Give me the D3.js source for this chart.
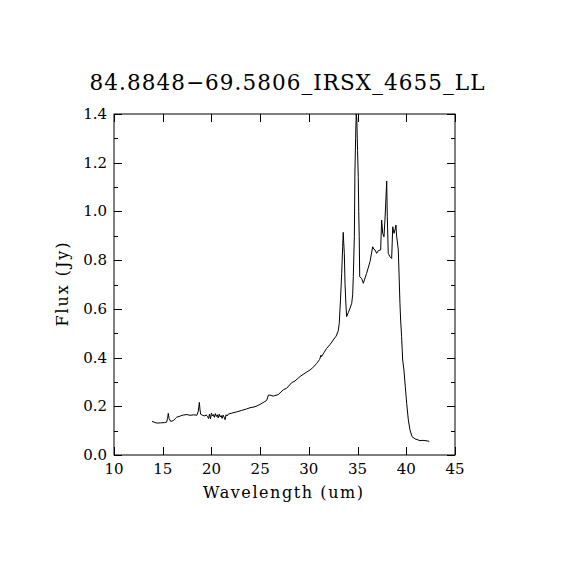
<!DOCTYPE html>
<html><head><meta charset="utf-8">
<script src="https://cdn.jsdelivr.net/npm/d3@7"></script>
<style>body{margin:0;background:#fff}svg{display:block}text{font-family:"DejaVu Serif","Liberation Serif",serif;fill:#000}</style>
</head><body>
<svg id="c" width="570" height="570"></svg>
<script>
const title = "84.8848\u221269.5806_IRSX_4655_LL";
const xLabel = "Wavelength (um)";
const yLabel = "Flux (Jy)";
const xTicks = [10,15,20,25,30,35,40,45];
const yTicks = [0.0,0.2,0.4,0.6,0.8,1.0,1.2,1.4];
const wavelength = [13.9,14.1,14.38,14.8,15.2,15.4,15.5,15.57,15.65,15.82,16.09,16.3,16.43,16.8,17.1,17.5,17.8,18.2,18.5,18.65,18.76,18.83,18.9,19.1,19.34,19.45,19.6,19.7,19.8,19.9,20.0,20.1,20.2,20.3,20.4,20.5,20.6,20.7,20.8,20.9,21.0,21.1,21.2,21.3,21.4,21.5,21.6,21.73,22.1,22.6,23.1,23.6,23.96,24.47,25.0,25.67,25.85,26.0,26.35,26.86,27.38,27.72,28.24,28.58,29.09,29.6,30.12,30.5,30.8,31.1,31.25,31.3,31.55,31.83,32.2,32.5,32.8,33.02,33.12,33.25,33.37,33.47,33.53,33.58,33.64,33.71,33.8,33.88,34.05,34.22,34.4,34.5,34.56,34.67,34.73,34.8,34.86,34.92,35.0,35.07,35.12,35.17,35.22,35.42,35.59,35.93,36.28,36.55,36.67,36.79,36.96,37.13,37.37,37.47,37.58,37.71,37.81,37.92,37.99,38.05,38.15,38.33,38.5,38.61,38.74,38.84,38.94,39.0,39.18,39.35,39.42,39.52,39.63,39.76,39.9,40.04,40.21,40.38,40.59,40.9,41.2,41.4,41.7,41.92,42.15,42.36];
const flux = [0.138,0.135,0.131,0.132,0.133,0.135,0.150,0.171,0.150,0.138,0.141,0.150,0.155,0.160,0.164,0.166,0.163,0.165,0.163,0.180,0.216,0.185,0.167,0.163,0.160,0.165,0.158,0.150,0.168,0.148,0.172,0.160,0.166,0.155,0.170,0.158,0.165,0.152,0.168,0.156,0.162,0.150,0.164,0.155,0.145,0.165,0.160,0.168,0.172,0.177,0.183,0.189,0.194,0.198,0.208,0.224,0.246,0.246,0.242,0.248,0.268,0.274,0.297,0.304,0.322,0.336,0.349,0.362,0.376,0.392,0.410,0.404,0.420,0.438,0.455,0.472,0.488,0.510,0.541,0.640,0.746,0.855,0.914,0.870,0.828,0.705,0.620,0.568,0.585,0.602,0.623,0.660,0.732,0.896,1.170,1.300,1.400,1.380,1.250,1.142,1.000,0.896,0.732,0.725,0.705,0.746,0.794,0.855,0.845,0.842,0.828,0.839,0.842,0.965,0.910,0.896,0.965,1.060,1.125,0.978,0.828,0.814,0.807,0.937,0.910,0.924,0.944,0.903,0.842,0.623,0.554,0.486,0.390,0.349,0.280,0.212,0.144,0.103,0.075,0.066,0.062,0.059,0.060,0.059,0.058,0.056];

const svg = d3.select("#c");
const L=114,R=455,T=114,B=455;
const x = d3.scaleLinear().domain([10,45]).range([L,R]);
const y = d3.scaleLinear().domain([0,1.4]).range([B,T]);

svg.append("rect").attr("x",L).attr("y",T).attr("width",R-L).attr("height",B-T)
  .attr("fill","none").attr("stroke","#000").attr("stroke-width",1);

const majorLen=8, minorLen=4;
const yMinor = d3.range(0.1,1.4,0.2).map(v=>+v.toFixed(1));

function tickLines(vals, len, axis){
  vals.forEach(v=>{
    if(axis==="x"){
      const px=Math.round(x(v))+0.5;
      svg.append("line").attr("x1",px).attr("x2",px).attr("y1",B).attr("y2",B-len).attr("stroke","#000");
      svg.append("line").attr("x1",px).attr("x2",px).attr("y1",T).attr("y2",T+len).attr("stroke","#000");
    } else {
      const py=Math.round(y(v))+0.5;
      svg.append("line").attr("x1",L).attr("x2",L+len).attr("y1",py).attr("y2",py).attr("stroke","#000");
      svg.append("line").attr("x1",R).attr("x2",R-len).attr("y1",py).attr("y2",py).attr("stroke","#000");
    }
  });
}
tickLines(xTicks,majorLen,"x");
tickLines(yTicks,majorLen,"y");
tickLines(yMinor,minorLen,"y");

svg.selectAll(".xt").data(xTicks).enter().append("text")
  .attr("x",d=>x(d)).attr("y",B+19).attr("text-anchor","middle").attr("font-size",15)
  .text(d=>d);
svg.selectAll(".yt").data(yTicks).enter().append("text")
  .attr("x",L-7).attr("y",d=>y(d)+5).attr("text-anchor","end").attr("font-size",15)
  .text(d=>d.toFixed(1));

svg.append("text").attr("x",283).attr("y",498).attr("text-anchor","middle").attr("font-size",16)
  .attr("textLength",160).attr("lengthAdjust","spacing").text(xLabel);
svg.append("text").attr("transform",`translate(68,${(T+B)/2}) rotate(-90)`).attr("text-anchor","middle").attr("font-size",16)
  .attr("textLength",84).attr("lengthAdjust","spacing").text(yLabel);
svg.append("text").attr("x",287).attr("y",90).attr("text-anchor","middle").attr("font-size",21.5)
  .attr("textLength",395).attr("lengthAdjust","spacing").text(title);

svg.append("defs").append("clipPath").attr("id","clip").append("rect")
  .attr("x",L).attr("y",T).attr("width",R-L).attr("height",B-T);
const pts = wavelength.map((w,i)=>[w,flux[i]]);
svg.append("path").datum(pts).attr("clip-path","url(#clip)")
  .attr("fill","none").attr("stroke","#000").attr("stroke-width",1)
  .attr("d",d3.line().x(d=>x(d[0])).y(d=>y(d[1])));
</script>
</body></html>
